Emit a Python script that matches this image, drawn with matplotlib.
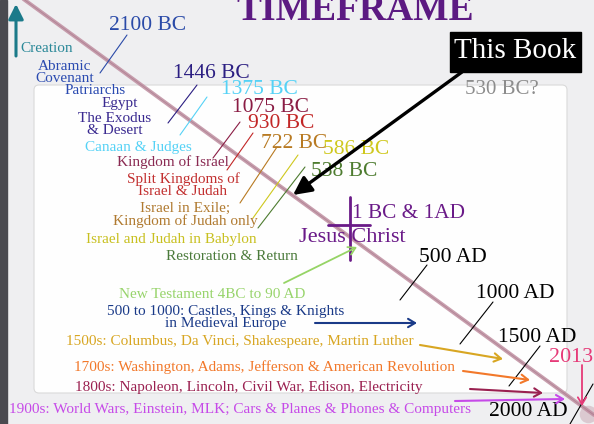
import matplotlib

matplotlib.use("Agg")
import matplotlib.pyplot as plt
from matplotlib.patches import FancyBboxPatch, Rectangle

plt.rcParams["font.family"] = ["Liberation Serif", "DejaVu Serif"]

# --- content -------------------------------------------------------------
TITLE = "TIMEFRAME"
DATES_BC = ["2100 BC", "1446 BC", "1375 BC", "1075 BC", "930 BC", "722 BC", "586 BC", "538 BC"]
ERAS_BC = [
    "Abramic\nCovenant", "Patriarchs", "Egypt", "The Exodus\n& Desert", "Canaan & Judges",
    "Kingdom of Israel", "Split Kingdoms of\nIsrael & Judah",
    "Israel in Exile;\nKingdom of Judah only", "Israel and Judah in Babylon",
    "Restoration & Return",
]
DATES_AD = ["1 BC & 1AD", "500 AD", "1000 AD", "1500 AD", "2000 AD", "2013"]
ERAS_AD = [
    "New Testament 4BC to 90 AD",
    "500 to 1000: Castles, Kings & Knights\nin Medieval Europe",
    "1500s: Columbus, Da Vinci, Shakespeare, Martin Luther",
    "1700s: Washington, Adams, Jefferson & American Revolution",
    "1800s: Napoleon, Lincoln, Civil War, Edison, Electricity",
    "1900s: World Wars, Einstein, MLK; Cars & Planes & Phones & Computers",
]
BOOK_LABEL = "This Book"
BOOK_DATE = "530 BC?"
START_LABEL = "Creation"
CHRIST_LABEL = "Jesus Christ"


def txt(ax, x, y, s, color, size, ha="center", **kw):
    ax.text(x, y, s, color=color, fontsize=size, ha=ha, va="center",
            linespacing=0.9, **kw)


def leader(ax, p0, p1, color, lw=0.8):
    ax.plot([p0[0], p1[0]], [p0[1], p1[1]], color=color, lw=lw, solid_capstyle="round")


def arrow(ax, p0, p1, color, lw=1.5, style="->,head_length=0.5,head_width=0.3"):
    ax.annotate("", xy=p1, xytext=p0,
                arrowprops=dict(arrowstyle=style, color=color, lw=lw, shrinkA=0, shrinkB=0))


def main() -> None:
    fig = plt.figure(figsize=(5.94, 4.24), dpi=100)
    ax = fig.add_axes([0, 0, 1, 1])
    ax.set_xlim(0, 594)
    ax.set_ylim(424, 0)
    ax.axis("off")

    # background, dark left edge, white panel
    ax.add_patch(Rectangle((0, 0), 594, 424, color="#efeff1", zorder=0))
    ax.add_patch(Rectangle((0, 0), 7, 424, color="#4a4a50", zorder=0))
    ax.add_patch(FancyBboxPatch((34, 85), 533, 308, boxstyle="round,pad=0,rounding_size=5",
                                fc="#fefefe", ec="#dadada", lw=0.8, zorder=0.5))

    ax.text(355, 20, TITLE, color="#5c1a82", fontsize=27, fontweight="bold",
            ha="center", va="baseline")

    # the time line
    ax.plot([22, 594], [-2, 415], color="#bf8ea0", lw=2.8, alpha=0.85, solid_capstyle="round")
    ax.plot([22, 594], [-2, 415], color="#9a6a7c", lw=0.6, alpha=0.5)
    ax.scatter([588], [414], s=160, color="#c8a4b0", alpha=0.5, lw=0)

    # creation
    arrow(ax, (16, 56), (16, 4), "#1b7a8a", lw=2.2, style="-|>,head_length=0.9,head_width=0.45")
    txt(ax, 47, 48, START_LABEL, "#2a8898", 11)

    # BC dates + leader lines
    bc = [
        ((148, 25), "#2a4aa8", (127, 35), (100, 73)),
        ((211, 73), "#2b1e82", (197, 85), (168, 123)),
        ((259, 90), "#55d2f6", (207, 97), (180, 135)),
        ((270, 108), "#8a1c44", (240, 122), (213, 158)),
        ((281, 123), "#c22626", (253, 133), (227, 170)),
        ((294, 144), "#b87a22", (277, 147), (240, 203)),
        ((356, 150), "#cfc81e", (298, 155), (253, 218)),
        ((344, 172), "#4e7c30", (305, 167), (258, 228)),
    ]
    for label, (pos, col, a, b) in zip(DATES_BC, bc):
        txt(ax, pos[0], pos[1], label, col, 15.5)
        leader(ax, a, b, col)

    era_pos = [
        ((65, 72), "#2a4ab0"),
        ((95, 91), "#2a4ab0"),
        ((120, 103), "#3a2a90"),
        ((115, 125), "#3a2a90"),
        ((138, 148), "#55d2f6"),
        ((173, 162), "#8a2a52"),
        ((183, 185), "#c23030"),
        ((185, 215), "#b07a30"),
        ((171, 240), "#c8c020"),
        ((232, 256), "#4a7a3a"),
    ]
    for label, (pos, col) in zip(ERAS_BC, era_pos):
        txt(ax, pos[0], pos[1], label, col, 11)

    # this book
    ax.add_patch(Rectangle((450, 32), 131, 40, color="black", zorder=2))
    txt(ax, 515, 51, BOOK_LABEL, "white", 21, zorder=3)
    arrow(ax, (462, 72), (293, 195), "black", lw=2.4, style="-|>,head_length=1.1,head_width=0.55")
    txt(ax, 502, 89, BOOK_DATE, "#8c8c8c", 15)

    # Jesus Christ + cross
    purple = "#6a1a88"
    txt(ax, 408, 213, DATES_AD[0], purple, 15.3)
    txt(ax, 352, 237, CHRIST_LABEL, purple, 16)
    leader(ax, (350, 197), (350, 260), purple, lw=2.0)
    leader(ax, (328, 225), (370, 225), purple, lw=2.0)
    arrow(ax, (284, 283), (357, 247), "#96d466", lw=1.3)

    # AD dates + leader lines
    ad = [
        ((453, 257), (427, 265), (400, 300)),
        ((515, 293), (493, 302), (460, 344)),
        ((537, 337), (540, 346), (509, 386)),
        ((528, 412), (593, 384), (570, 424)),
    ]
    for label, (pos, a, b) in zip(DATES_AD[1:5], ad):
        txt(ax, pos[0], pos[1], label, "black", 15.5)
        leader(ax, a, b, "black")
    txt(ax, 571, 357, DATES_AD[5], "#e63a78", 15.8)
    arrow(ax, (582, 365), (582, 406), "#e63a78", lw=1.3)

    # AD eras with arrows
    ad_eras = [
        ((212, 294), "#98d46c", None),
        ((226, 318), "#1a3a88", ((315, 323), (417, 323))),
        ((240, 342), "#d8a622", ((420, 345), (503, 359))),
        ((265, 367), "#f2782a", ((463, 371), (530, 380))),
        ((249, 387), "#9a2050", ((470, 389), (543, 393))),
        ((240, 410), "#c64ae8", ((455, 401), (565, 399))),
    ]
    for label, (pos, col, arr) in zip(ERAS_AD, ad_eras):
        txt(ax, pos[0], pos[1], label, col, 11)
        if arr:
            arrow(ax, arr[0], arr[1], col)

    fig.savefig("out.png", dpi=100)
    plt.close(fig)


if __name__ == "__main__":
    main()
